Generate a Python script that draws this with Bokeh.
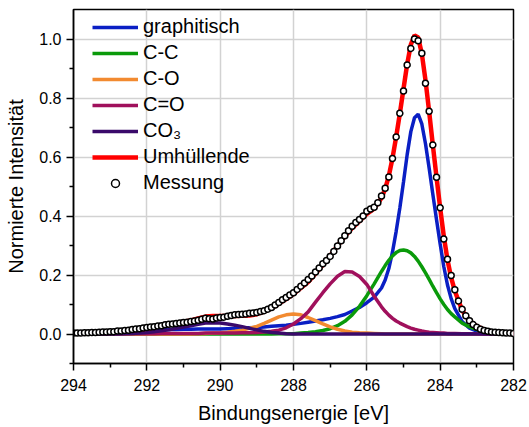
from bokeh.plotting import figure
from bokeh.models import (Range1d, FixedTicker, PrintfTickFormatter, Legend,
                          LegendItem, ColumnDataSource)
from bokeh.embed import file_html
from bokeh.resources import INLINE

FONT = "Liberation Sans"

# Binding energy grid of the peak fit (eV)
energy_fit = [294.0, 293.8, 293.6, 293.4, 293.2, 293.0, 292.8, 292.6, 292.4, 292.2,
              292.0, 291.8, 291.6, 291.4, 291.2, 291.0, 290.8, 290.6, 290.4, 290.2,
              290.0, 289.8, 289.6, 289.4, 289.2, 289.0, 288.8, 288.6, 288.4, 288.2,
              288.0, 287.8, 287.6, 287.4, 287.2, 287.0, 286.8, 286.6, 286.4, 286.2,
              286.0, 285.8, 285.6, 285.5, 285.4, 285.3, 285.2, 285.1, 285.0, 284.9,
              284.8, 284.7, 284.6, 284.5, 284.4, 284.3, 284.2, 284.1, 284.0, 283.9,
              283.8, 283.7, 283.6, 283.4, 283.2, 283.0, 282.8, 282.6, 282.4, 282.2,
              282.0]

graphitisch = [0.003, 0.003, 0.004, 0.005, 0.006, 0.007, 0.008, 0.009, 0.010, 0.011,
               0.012, 0.013, 0.014, 0.015, 0.015, 0.016, 0.016, 0.017, 0.017, 0.017,
               0.017, 0.018, 0.019, 0.020, 0.021, 0.022, 0.024, 0.026, 0.028, 0.030,
               0.033, 0.036, 0.040, 0.044, 0.048, 0.053, 0.059, 0.066, 0.078, 0.090,
               0.106, 0.125, 0.156, 0.183, 0.222, 0.278, 0.348, 0.427, 0.515, 0.608,
               0.686, 0.733, 0.745, 0.712, 0.645, 0.562, 0.474, 0.388, 0.305, 0.228,
               0.166, 0.120, 0.086, 0.042, 0.020, 0.010, 0.005, 0.003, 0.002, 0.001,
               0.001]

c_c = [0.000, 0.000, 0.000, 0.000, 0.000, 0.000, 0.000, 0.000, 0.000, 0.000,
       0.000, 0.000, 0.000, 0.000, 0.000, 0.000, 0.000, 0.000, 0.000, 0.000,
       0.000, 0.000, 0.000, 0.000, 0.000, 0.000, 0.000, 0.000, 0.001, 0.001,
       0.001, 0.003, 0.005, 0.008, 0.012, 0.018, 0.028, 0.043, 0.065, 0.094,
       0.130, 0.170, 0.212, 0.232, 0.250, 0.265, 0.276, 0.283, 0.285, 0.282,
       0.275, 0.263, 0.247, 0.228, 0.207, 0.185, 0.162, 0.140, 0.119, 0.100,
       0.083, 0.069, 0.058, 0.037, 0.024, 0.015, 0.010, 0.006, 0.004, 0.002,
       0.001]

c_o = [0.000, 0.000, 0.000, 0.000, 0.000, 0.000, 0.000, 0.000, 0.000, 0.000,
       0.000, 0.000, 0.000, 0.000, 0.000, 0.000, 0.000, 0.001, 0.002, 0.003,
       0.004, 0.006, 0.009, 0.013, 0.019, 0.026, 0.036, 0.047, 0.058, 0.065,
       0.068, 0.065, 0.056, 0.045, 0.034, 0.024, 0.016, 0.010, 0.006, 0.004,
       0.003, 0.002, 0.001, 0.000, 0.000, 0.000, 0.000, 0.000, 0.000, 0.000,
       0.000, 0.000, 0.000, 0.000, 0.000, 0.000, 0.000, 0.000, 0.000, 0.000,
       0.000, 0.000, 0.000, 0.000, 0.000, 0.000, 0.000, 0.000, 0.000, 0.000,
       0.000]

c_dbl_o = [0.001, 0.001, 0.001, 0.001, 0.001, 0.001, 0.001, 0.001, 0.001, 0.001,
           0.001, 0.001, 0.002, 0.002, 0.002, 0.002, 0.002, 0.002, 0.003, 0.003,
           0.003, 0.003, 0.003, 0.004, 0.004, 0.005, 0.007, 0.009, 0.013, 0.021,
           0.034, 0.052, 0.075, 0.108, 0.140, 0.170, 0.196, 0.212, 0.210, 0.195,
           0.168, 0.128, 0.092, 0.077, 0.064, 0.053, 0.044, 0.037, 0.031, 0.025,
           0.020, 0.016, 0.013, 0.010, 0.008, 0.006, 0.005, 0.004, 0.003, 0.003,
           0.002, 0.002, 0.002, 0.001, 0.001, 0.001, 0.000, 0.000, 0.000, 0.000,
           0.000]

co3 = [0.000, 0.000, 0.000, 0.000, 0.000, 0.000, 0.000, 0.001, 0.002, 0.003,
       0.005, 0.008, 0.011, 0.014, 0.019, 0.024, 0.028, 0.033, 0.037, 0.038,
       0.037, 0.034, 0.030, 0.025, 0.019, 0.014, 0.009, 0.005, 0.003, 0.001,
       0.000, 0.000, 0.000, 0.000, 0.000, 0.000, 0.000, 0.000, 0.000, 0.000,
       0.000, 0.000, 0.000, 0.000, 0.000, 0.000, 0.000, 0.000, 0.000, 0.000,
       0.000, 0.000, 0.000, 0.000, 0.000, 0.000, 0.000, 0.000, 0.000, 0.000,
       0.000, 0.000, 0.000, 0.000, 0.000, 0.000, 0.000, 0.000, 0.000, 0.000,
       0.000]

umhuellende = [0.004, 0.004, 0.005, 0.006, 0.007, 0.008, 0.009, 0.011, 0.013, 0.015,
               0.018, 0.022, 0.027, 0.031, 0.036, 0.042, 0.046, 0.053, 0.059, 0.061,
               0.061, 0.061, 0.061, 0.062, 0.063, 0.067, 0.076, 0.087, 0.103, 0.118,
               0.136, 0.156, 0.176, 0.205, 0.234, 0.265, 0.299, 0.331, 0.359, 0.383,
               0.407, 0.425, 0.461, 0.492, 0.536, 0.596, 0.668, 0.747, 0.831, 0.915,
               0.981, 1.012, 1.005, 0.950, 0.860, 0.753, 0.641, 0.532, 0.427, 0.331,
               0.251, 0.191, 0.146, 0.080, 0.045, 0.026, 0.015, 0.009, 0.006, 0.003,
               0.002]

# Measured spectrum (eV, normalised intensity)
energy_meas = [294.0, 293.9, 293.8, 293.7, 293.6, 293.5, 293.4, 293.3, 293.2, 293.1,
               293.0, 292.9, 292.8, 292.7, 292.6, 292.5, 292.4, 292.3, 292.2, 292.1,
               292.0, 291.9, 291.8, 291.7, 291.6, 291.5, 291.4, 291.3, 291.2, 291.1,
               291.0, 290.9, 290.8, 290.7, 290.6, 290.5, 290.4, 290.3, 290.2, 290.1,
               290.0, 289.9, 289.8, 289.7, 289.6, 289.5, 289.4, 289.3, 289.2, 289.1,
               289.0, 288.9, 288.8, 288.7, 288.6, 288.5, 288.4, 288.3, 288.2, 288.1,
               288.0, 287.9, 287.8, 287.7, 287.6, 287.5, 287.4, 287.3, 287.2, 287.1,
               287.0, 286.9, 286.8, 286.7, 286.6, 286.5, 286.4, 286.3, 286.2, 286.1,
               286.0, 285.9, 285.8, 285.7, 285.6, 285.5, 285.4, 285.3, 285.2, 285.1,
               285.0, 284.9, 284.8, 284.7, 284.6, 284.5, 284.4, 284.3, 284.2, 284.1,
               284.0, 283.9, 283.8, 283.7, 283.6, 283.5, 283.4, 283.3, 283.2, 283.1,
               283.0, 282.9, 282.8, 282.7, 282.6, 282.5, 282.4, 282.3, 282.2, 282.1,
               282.0]

messung = [0.003, 0.003, 0.003, 0.004, 0.004, 0.005, 0.005, 0.006, 0.007, 0.007,
           0.008, 0.008, 0.010, 0.010, 0.012, 0.013, 0.015, 0.017, 0.018, 0.020,
           0.022, 0.024, 0.025, 0.027, 0.028, 0.031, 0.033, 0.034, 0.036, 0.037,
           0.039, 0.040, 0.042, 0.044, 0.047, 0.050, 0.053, 0.052, 0.051, 0.054,
           0.056, 0.057, 0.060, 0.063, 0.065, 0.066, 0.067, 0.068, 0.070, 0.071,
           0.073, 0.076, 0.079, 0.084, 0.090, 0.098, 0.107, 0.116, 0.124, 0.132,
           0.140, 0.151, 0.162, 0.173, 0.185, 0.197, 0.210, 0.224, 0.238, 0.249,
           0.263, 0.280, 0.298, 0.316, 0.333, 0.350, 0.365, 0.378, 0.388, 0.400,
           0.416, 0.424, 0.430, 0.445, 0.468, 0.494, 0.532, 0.595, 0.668, 0.748,
           0.824, 0.912, 0.968, 1.000, 0.994, 0.952, 0.850, 0.755, 0.641, 0.531,
           0.428, 0.322, 0.253, 0.198, 0.150, 0.112, 0.084, 0.062, 0.045, 0.032,
           0.023, 0.016, 0.012, 0.009, 0.007, 0.006, 0.005, 0.004, 0.003, 0.003,
           0.002]

x_ticks = [294, 292, 290, 288, 286, 284, 282]
x_minor = [293, 291, 289, 287, 285, 283]
y_ticks = [0.0, 0.2, 0.4, 0.6, 0.8, 1.0]
y_minor = [-0.1, 0.1, 0.3, 0.5, 0.7, 0.9]

fit = ColumnDataSource(dict(e=energy_fit, graphitisch=graphitisch, cc=c_c, co=c_o,
                            cdo=c_dbl_o, co3=co3, env=umhuellende))
meas = ColumnDataSource(dict(e=energy_meas, y=messung))

p = figure(width=529, height=427, output_backend="svg", toolbar_location=None,
           x_range=Range1d(294, 282), y_range=Range1d(-0.1, 1.1),
           min_border_left=73, min_border_right=16, min_border_top=9,
           min_border_bottom=64)

p.background_fill_color = "white"
p.border_fill_color = "white"
p.outline_line_color = "black"
p.outline_line_width = 1.5
p.outline_line_alpha = 1.0

p.xaxis.ticker = FixedTicker(ticks=x_ticks, minor_ticks=x_minor)
p.yaxis.ticker = FixedTicker(ticks=y_ticks, minor_ticks=y_minor)
p.yaxis.formatter = PrintfTickFormatter(format="%.1f")
p.xaxis.axis_label = "Bindungsenergie [eV]"
p.yaxis.axis_label = "Normierte Intensität"

for ax in (p.xaxis, p.yaxis):
    ax.axis_line_width = 1.5
    ax.axis_line_color = "black"
    ax.major_tick_line_width = 1.5
    ax.minor_tick_line_width = 1.5
    ax.major_tick_line_color = "black"
    ax.minor_tick_line_color = "black"
    ax.major_tick_in = 0
    ax.major_tick_out = 7
    ax.minor_tick_in = 0
    ax.minor_tick_out = 4
    ax.major_label_text_font = FONT
    ax.major_label_text_font_size = "16px"
    ax.major_label_text_color = "black"
    ax.axis_label_text_font = FONT
    ax.axis_label_text_font_size = "20px"
    ax.axis_label_text_font_style = "normal"
    ax.axis_label_text_color = "black"

p.xaxis.major_label_standoff = 8
p.xaxis.axis_label_standoff = 8
p.yaxis.major_label_standoff = 5
p.yaxis.axis_label_standoff = 9

p.grid.grid_line_color = "#d2d2d2"
p.grid.grid_line_width = 1.5

components = [
    ("graphitisch", "graphitisch", "#0a1fc4"),
    ("cc", "C-C", "#0a9a0a"),
    ("co", "C-O", "#f28a30"),
    ("cdo", "C=O", "#a0105c"),
    ("co3", "CO\u2083", "#3a0a6a"),
]

items = []
for col, label, color in components:
    r = p.line("e", col, source=fit, line_color=color, line_width=3.5)
    items.append(LegendItem(label=label, renderers=[r]))

r_env = p.line("e", "env", source=fit, line_color="#ff0000", line_width=4.5)
items.append(LegendItem(label="Umhüllende", renderers=[r_env]))

r_meas = p.scatter("e", "y", source=meas, marker="circle", size=6,
                   fill_color="white", line_color="black", line_width=1.5)
items.append(LegendItem(label="Messung", renderers=[r_meas]))

legend = Legend(items=items, location=(19, 169))
legend.background_fill_alpha = 0
legend.border_line_alpha = 0
legend.padding = 0
legend.margin = 0
legend.spacing = 3
legend.glyph_width = 46
legend.glyph_height = 20
legend.label_height = 20
legend.label_standoff = 5
legend.label_text_font = FONT
legend.label_text_font_size = "20px"
legend.label_text_color = "black"
p.add_layout(legend)

open("out.html", "w").write(file_html(p, INLINE))
